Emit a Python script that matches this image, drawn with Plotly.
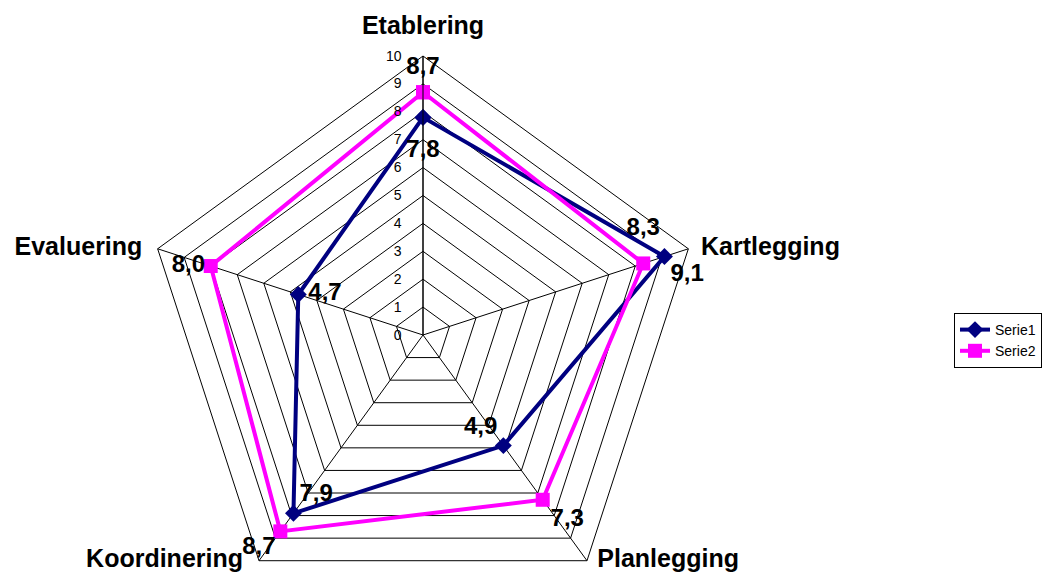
import plotly.graph_objects as go

categories = ["Etablering", "Kartlegging", "Planlegging", "Koordinering", "Evaluering"]
serie1 = [7.8, 9.1, 4.9, 7.9, 4.7]
serie2 = [8.7, 8.3, 7.3, 8.7, 8.0]
radial_ticks = list(range(0, 11))

# where each value label sits relative to its point, and how far out (px of a hidden marker)
serie1_pos = ["bottom center", "bottom right", "top left", "top right", "middle right"]
serie1_gap = [33.6, 8, 8, 8, 14.4]
serie2_pos = ["top center", "top center", "bottom right", "bottom left", "middle left"]
serie2_gap = [18, 34, 11, 6, 7.5]
cat_pos = ["top center", "middle right", "middle right", "middle left", "middle left"]
cat_gap = [23.6, 18.7, 14.9, 24, 22.9]


def fmt(v):
    return f"{v:.1f}".replace(".", ",")


FONT = "Liberation Sans, Arial, sans-serif"
NAVY = "#000080"
MAGENTA = "#FF00FF"
R_MAX = radial_ticks[-1]

fig = go.Figure()

fig.add_trace(go.Scatterpolar(
    r=serie1 + serie1[:1],
    theta=categories + categories[:1],
    name="Serie1",
    mode="lines+markers",
    line=dict(color=NAVY, width=4),
    marker=dict(symbol="diamond", size=13, color=NAVY),
))
fig.add_trace(go.Scatterpolar(
    r=serie2 + serie2[:1],
    theta=categories + categories[:1],
    name="Serie2",
    mode="lines+markers",
    line=dict(color=MAGENTA, width=4),
    marker=dict(symbol="square", size=14, color=MAGENTA),
))

hidden = dict(color="rgba(0,0,0,0)", opacity=0, line=dict(width=0))

# value labels
for vals, pos, gap in ((serie1, serie1_pos, serie1_gap), (serie2, serie2_pos, serie2_gap)):
    fig.add_trace(go.Scatterpolar(
        r=vals,
        theta=categories,
        mode="markers+text",
        text=[fmt(v) for v in vals],
        textposition=pos,
        marker=dict(size=gap, **hidden),
        textfont=dict(family=FONT, size=24, color="black", weight="bold"),
        showlegend=False,
        hoverinfo="skip",
    ))

# category names at the outer ring
fig.add_trace(go.Scatterpolar(
    r=[R_MAX] * len(categories),
    theta=categories,
    mode="markers+text",
    text=categories,
    textposition=cat_pos,
    marker=dict(size=cat_gap, **hidden),
    textfont=dict(family=FONT, size=25, color="black", weight="bold"),
    showlegend=False,
    hoverinfo="skip",
))

fig.update_layout(
    width=1052,
    height=614,
    margin=dict(l=0, r=0, t=0, b=0),
    paper_bgcolor="white",
    plot_bgcolor="white",
    font=dict(family=FONT, color="black"),
    polar=dict(
        domain=dict(x=[144 / 1052, 702 / 1052], y=[0, 558 / 614]),
        bgcolor="white",
        gridshape="linear",
        radialaxis=dict(
            range=[0, R_MAX],
            tickvals=radial_ticks,
            ticktext=[str(t) for t in radial_ticks],
            angle=90,
            side="counterclockwise",
            showline=True,
            linecolor="black",
            linewidth=1,
            gridcolor="black",
            gridwidth=1,
            ticks="outside",
            ticklen=16,
            tickcolor="rgba(0,0,0,0)",
            tickangle=90,
            tickfont=dict(family=FONT, size=14, color="black"),
        ),
        angularaxis=dict(
            rotation=90,
            direction="clockwise",
            showline=True,
            linecolor="black",
            linewidth=1,
            gridcolor="black",
            gridwidth=1,
            ticks="",
            showticklabels=False,
        ),
    ),
    showlegend=True,
    legend=dict(
        x=954 / 1052,
        y=1 - 313 / 614,
        xanchor="left",
        yanchor="top",
        bordercolor="black",
        borderwidth=1,
        bgcolor="white",
        font=dict(family=FONT, size=14, color="black"),
        itemwidth=30,
    ),
)

fig.write_html("out.html")
